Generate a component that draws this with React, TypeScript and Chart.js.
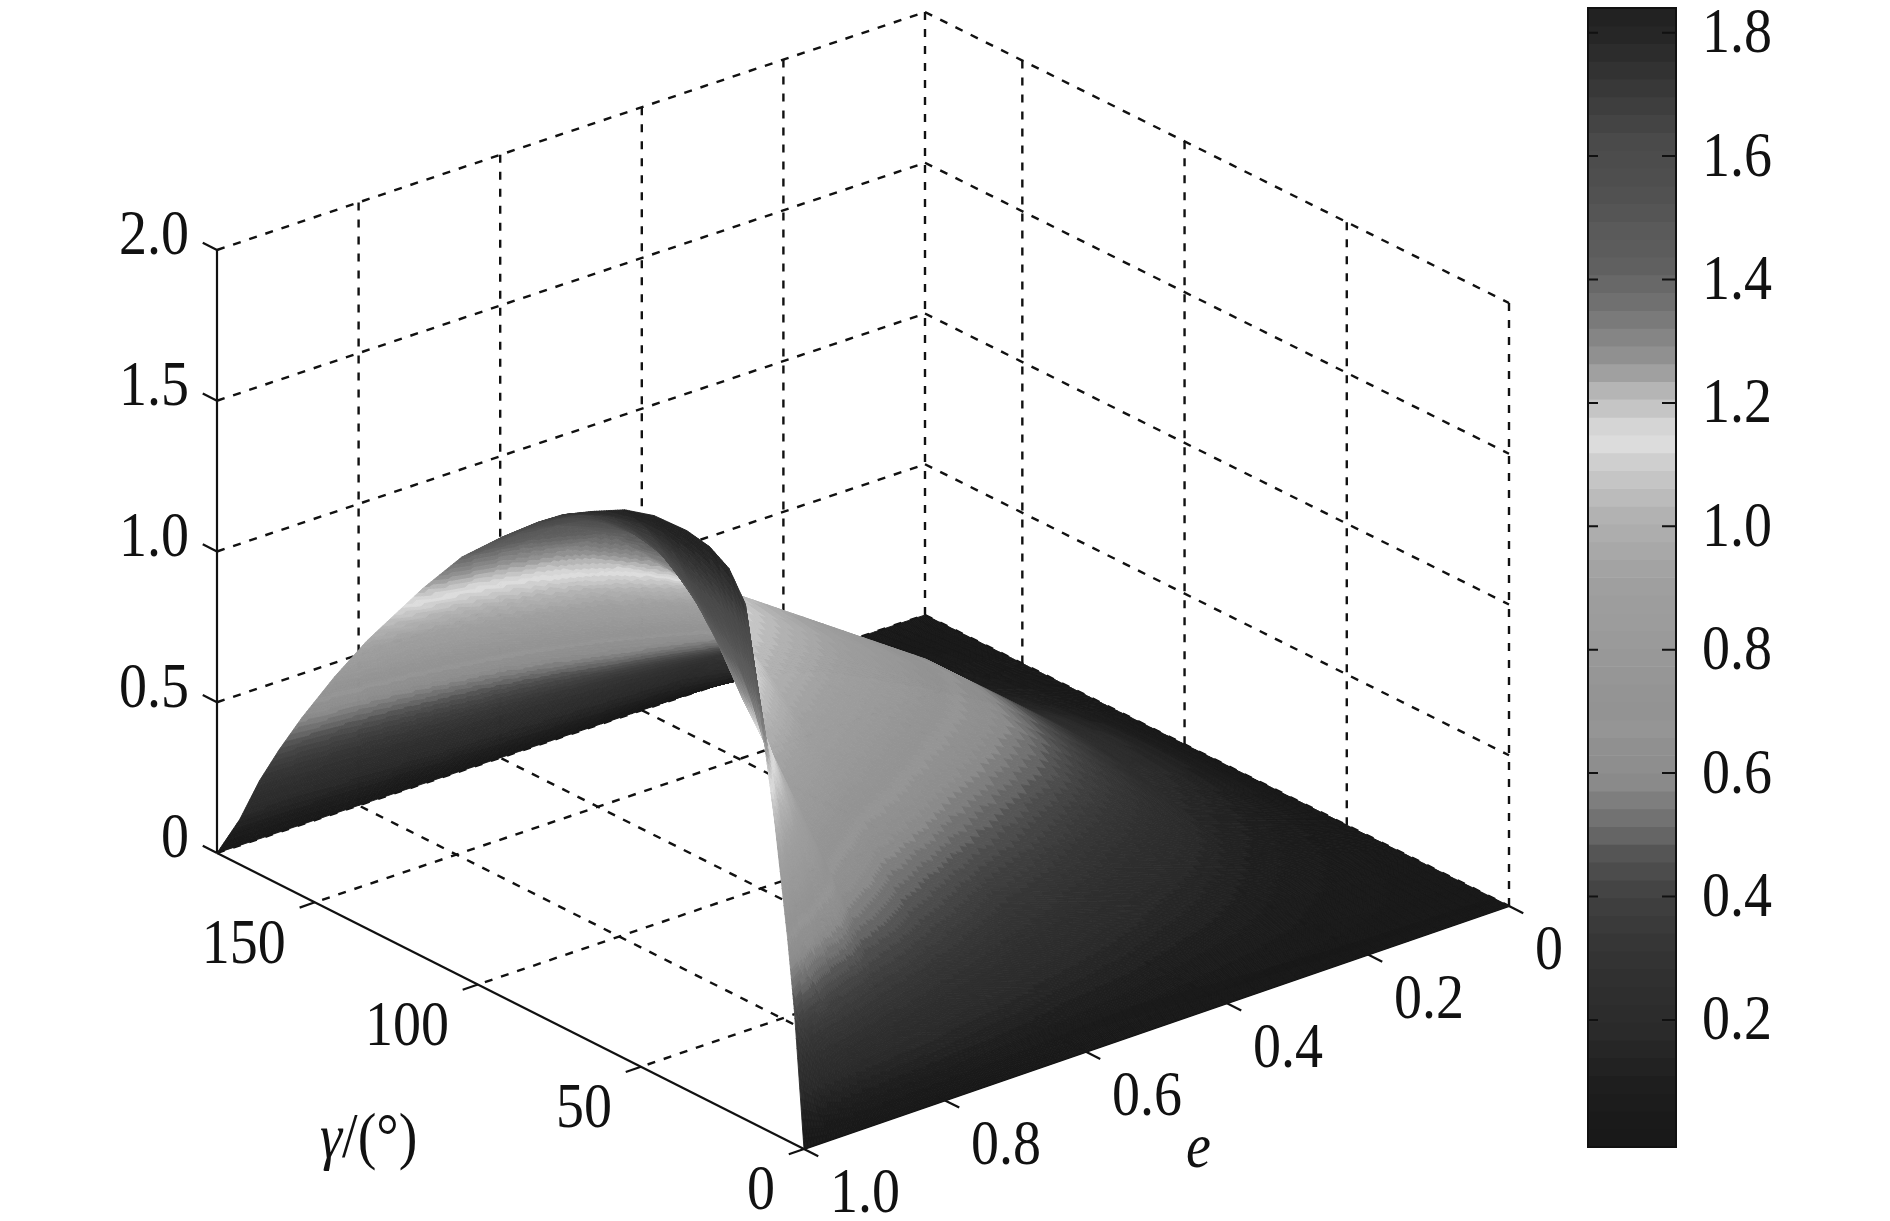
import React, { useEffect, useRef } from "react";
import { Chart, registerables } from "chart.js";

Chart.register(...registerables);

// ---------- data ----------
const E_NODES = [0, 0.2, 0.4, 0.6, 0.75, 0.85, 0.92, 0.97, 1];
const GAMMA_NODES = [0, 3, 5, 9, 13, 18, 23, 29, 36, 46, 55, 65, 74, 82, 93, 105, 117, 134, 144, 154, 161, 167, 173, 180];
const Z_E000 = [0, 0, 0, 0, 0, 0, 0, 0, 0, 0, 0, 0, 0, 0, 0, 0, 0, 0, 0, 0, 0, 0, 0, 0];
const Z_E020 = [0, 0.006, 0.01, 0.025, 0.037, 0.05, 0.063, 0.08, 0.103, 0.137, 0.167, 0.2, 0.228, 0.242, 0.25, 0.24, 0.21, 0.16, 0.125, 0.09, 0.07, 0.045, 0.02, 0];
const Z_E040 = [0, 0.02, 0.035, 0.063, 0.09, 0.125, 0.16, 0.2, 0.27, 0.37, 0.47, 0.56, 0.61, 0.64, 0.64, 0.6, 0.54, 0.48, 0.41, 0.33, 0.26, 0.18, 0.09, 0];
const Z_E060 = [0, 0.04, 0.07, 0.12, 0.17, 0.23, 0.3, 0.37, 0.47, 0.6, 0.71, 0.82, 0.9, 0.94, 0.96, 0.91, 0.82, 0.64, 0.52, 0.41, 0.32, 0.22, 0.11, 0];
const Z_E075 = [0, 0.08, 0.135, 0.22, 0.3, 0.39, 0.47, 0.55, 0.65, 0.8, 0.91, 1.02, 1.1, 1.17, 1.2, 1.14, 1.02, 0.79, 0.64, 0.49, 0.37, 0.26, 0.13, 0];
const Z_E085 = [0, 0.13, 0.21, 0.33, 0.43, 0.55, 0.64, 0.74, 0.85, 1.02, 1.2, 1.38, 1.46, 1.47, 1.42, 1.3, 1.13, 0.87, 0.71, 0.54, 0.41, 0.29, 0.14, 0];
const Z_E092 = [0, 0.19, 0.31, 0.48, 0.65, 0.85, 1.0, 1.13, 1.23, 1.42, 1.54, 1.6, 1.6, 1.58, 1.5, 1.36, 1.18, 0.92, 0.75, 0.57, 0.43, 0.3, 0.15, 0];
const Z_E097 = [0, 0.29, 0.47, 0.72, 0.95, 1.2, 1.36, 1.5, 1.58, 1.7, 1.74, 1.72, 1.68, 1.62, 1.52, 1.38, 1.2, 0.94, 0.77, 0.58, 0.44, 0.31, 0.15, 0];
const Z_E100 = [0, 0.45, 0.67, 1.04, 1.35, 1.71, 1.8, 1.84, 1.855, 1.85, 1.82, 1.76, 1.7, 1.63, 1.52, 1.39, 1.22, 0.955, 0.78, 0.59, 0.445, 0.31, 0.15, 0];
const Z_ROWS = [Z_E000, Z_E020, Z_E040, Z_E060, Z_E075, Z_E085, Z_E092, Z_E097, Z_E100];

// 64 grey levels of the colour bar, top band first
const BAND_GREYS = [
  34, 38, 44, 50, 56, 62, 68, 74, 76, 78, 81, 85, 90, 92, 96, 104,
  112, 122, 133, 144, 160, 181, 197, 213, 220, 207, 197, 187, 178, 173, 168, 163,
  159, 157, 156, 154, 152, 150, 148, 147, 149, 144, 142, 138, 126, 114, 101, 85,
  76, 68, 62, 58, 54, 51, 48, 46, 44, 42, 38, 34, 30, 28, 26, 25,
];
const BAR_MIN = -0.006;
const BAR_MAX = 1.84;

const Z_TICKS = [0, 0.5, 1, 1.5, 2];
const Z_TICK_LABELS = ["0", "0.5", "1.0", "1.5", "2.0"];
const GAMMA_TICKS = [0, 50, 100, 150];
const GAMMA_TICK_LABELS = ["0", "50", "100", "150"];
const E_TICKS = [0, 0.2, 0.4, 0.6, 0.8, 1];
const E_TICK_LABELS = ["0", "0.2", "0.4", "0.6", "0.8", "1.0"];
const BAR_TICKS = [0.2, 0.4, 0.6, 0.8, 1.0, 1.2, 1.4, 1.6, 1.8];

// ---------- view ----------
const GAMMA_MAX = 180;
const Z_MAX = 2;
const CORNER_R = { x: 1509, y: 906 }; // e=0, gamma=0
const CORNER_F = { x: 804, y: 1149 }; // e=1, gamma=0
const CORNER_L = { x: 217, y: 853 }; // e=1, gamma=max
const CORNER_B = { x: 925, y: 615 }; // e=0, gamma=max
const Z_PIXELS = 603;
const FONT = '"Liberation Serif", "Times New Roman", serif';
const FONT_SIZE = 56;
const TEXT_STRETCH = 1.12;
const INK = "#111111";

function project(e: number, gamma: number, z: number) {
  const g = gamma / GAMMA_MAX;
  const a = (1 - e) * (1 - g);
  const b = e * (1 - g);
  const c = e * g;
  const d = (1 - e) * g;
  return {
    x: a * CORNER_R.x + b * CORNER_F.x + c * CORNER_L.x + d * CORNER_B.x,
    y: a * CORNER_R.y + b * CORNER_F.y + c * CORNER_L.y + d * CORNER_B.y - (z / Z_MAX) * Z_PIXELS,
  };
}

function seg(p: { x: number; y: number }, q: { x: number; y: number }, dashed: boolean) {
  return {
    type: "scatter" as const,
    data: [p, q],
    showLine: true,
    pointRadius: 0,
    borderColor: INK,
    borderWidth: dashed ? 2.4 : 2.2,
    borderDash: dashed ? [8, 9] : [],
    fill: false,
  };
}

function buildLines() {
  const out: any[] = [];
  const eAll = [...E_TICKS];
  const gAll = [...GAMMA_TICKS, GAMMA_MAX];
  for (const z of Z_TICKS) {
    out.push(seg(project(1, GAMMA_MAX, z), project(0, GAMMA_MAX, z), true));
    out.push(seg(project(0, GAMMA_MAX, z), project(0, 0, z), true));
  }
  for (const e of eAll) {
    if (e === 1) continue;
    out.push(seg(project(e, GAMMA_MAX, 0), project(e, GAMMA_MAX, Z_MAX), true));
  }
  for (const g of gAll) {
    if (g === GAMMA_MAX) continue;
    out.push(seg(project(0, g, 0), project(0, g, Z_MAX), true));
  }
  for (const e of eAll) {
    if (e === 0 || e === 1) continue;
    out.push(seg(project(e, 0, 0), project(e, GAMMA_MAX, 0), true));
  }
  for (const g of gAll) {
    if (g === GAMMA_MAX || g === 0) continue;
    out.push(seg(project(0, g, 0), project(1, g, 0), true));
  }
  out.push(seg(project(1, GAMMA_MAX, 0), project(1, GAMMA_MAX, Z_MAX), false));
  out.push(seg(project(1, GAMMA_MAX, 0), project(1, 0, 0), false));
  out.push(seg(project(1, 0, 0), project(0, 0, 0), false));
  const T = 16;
  for (const z of Z_TICKS) {
    const p = project(1, GAMMA_MAX, z);
    out.push(seg(p, { x: p.x - T * 0.89, y: p.y - T * 0.45 }, false));
  }
  for (const g of GAMMA_TICKS) {
    const p = project(1, g, 0);
    out.push(seg(p, { x: p.x - T * 0.95, y: p.y + T * 0.33 }, false));
  }
  for (const e of E_TICKS) {
    const p = project(e, 0, 0);
    out.push(seg(p, { x: p.x + T * 0.89, y: p.y + T * 0.45 }, false));
  }
  return out;
}

function greyOf(v: number) {
  const t = (v - BAR_MIN) / (BAR_MAX - BAR_MIN);
  const i = Math.max(0, Math.min(63, Math.floor(t * 64)));
  const g = BAND_GREYS[63 - i];
  return `rgb(${g},${g},${g})`;
}

function stretchedText(ctx: any, text: string, x: number, y: number) {
  ctx.save();
  ctx.translate(x, y);
  ctx.scale(1, TEXT_STRETCH);
  ctx.fillText(text, 0, 0);
  ctx.restore();
}

const SURFACE_LABEL = "surface nodes";
const SUB = 14;

const surfacePlugin = {
  id: "surfacePlugin",
  afterDatasetsDraw(chart: any) {
    const { ctx, scales } = chart;
    const ds = chart.data.datasets.find((d: any) => d.label === SURFACE_LABEL);
    const nE = E_NODES.length;
    const nG = GAMMA_NODES.length;
    const node = (i: number, j: number) => {
      const n = ds.data[i * nG + j];
      return { x: scales.x.getPixelForValue(n.x), y: scales.y.getPixelForValue(n.y), v: n.v };
    };
    ctx.save();
    ctx.lineWidth = 0.9;
    ctx.lineJoin = "round";
    for (let i = 0; i < nE - 1; i++) {
      for (let j = nG - 2; j >= 0; j--) {
        const a = node(i, j);
        const b = node(i, j + 1);
        const c = node(i + 1, j);
        const d = node(i + 1, j + 1);
        const at = (s: number, t: number) => {
          const w00 = (1 - s) * (1 - t);
          const w01 = (1 - s) * t;
          const w10 = s * (1 - t);
          const w11 = s * t;
          return {
            x: w00 * a.x + w01 * b.x + w10 * c.x + w11 * d.x,
            y: w00 * a.y + w01 * b.y + w10 * c.y + w11 * d.y,
            v: w00 * a.v + w01 * b.v + w10 * c.v + w11 * d.v,
          };
        };
        for (let si = 0; si < SUB; si++) {
          for (let ti = SUB - 1; ti >= 0; ti--) {
            const s0 = si / SUB;
            const s1 = (si + 1) / SUB;
            const t0 = ti / SUB;
            const t1 = (ti + 1) / SUB;
            const p0 = at(s0, t0);
            const p1 = at(s0, t1);
            const p2 = at(s1, t1);
            const p3 = at(s1, t0);
            const col = greyOf((p0.v + p1.v + p2.v + p3.v) / 4);
            ctx.fillStyle = col;
            ctx.strokeStyle = col;
            ctx.beginPath();
            ctx.moveTo(p0.x, p0.y);
            ctx.lineTo(p1.x, p1.y);
            ctx.lineTo(p2.x, p2.y);
            ctx.lineTo(p3.x, p3.y);
            ctx.closePath();
            ctx.fill();
            ctx.stroke();
          }
        }
      }
    }
    ctx.restore();
  },
};

const labelPlugin = {
  id: "labelPlugin",
  afterDraw(chart: any) {
    const { ctx, scales } = chart;
    const px = (p: { x: number; y: number }) => ({
      x: scales.x.getPixelForValue(p.x),
      y: scales.y.getPixelForValue(p.y),
    });
    ctx.save();
    ctx.fillStyle = INK;
    ctx.textBaseline = "middle";
    ctx.font = `${FONT_SIZE}px ${FONT}`;
    ctx.textAlign = "right";
    Z_TICKS.forEach((z, i) => {
      const p = px(project(1, GAMMA_MAX, z));
      stretchedText(ctx, Z_TICK_LABELS[i], p.x - 28, p.y - 12);
    });
    GAMMA_TICKS.forEach((g, i) => {
      const p = px(project(1, g, 0));
      stretchedText(ctx, GAMMA_TICK_LABELS[i], p.x - 29, p.y + 44);
    });
    ctx.textAlign = "left";
    E_TICKS.forEach((e, i) => {
      const p = px(project(e, 0, 0));
      stretchedText(ctx, E_TICK_LABELS[i], p.x + 26, p.y + 47);
    });
    const gName = px({ x: 320, y: 1141 });
    ctx.font = `italic ${FONT_SIZE}px ${FONT}`;
    stretchedText(ctx, "γ", gName.x, gName.y);
    const w = ctx.measureText("γ").width;
    ctx.font = `${FONT_SIZE}px ${FONT}`;
    stretchedText(ctx, "/(°)", gName.x + w, gName.y);
    const eName = px({ x: 1186, y: 1151 });
    ctx.font = `italic ${FONT_SIZE}px ${FONT}`;
    stretchedText(ctx, "e", eName.x, eName.y);
    ctx.restore();
  },
};

const barFramePlugin = {
  id: "barFramePlugin",
  afterDatasetsDraw(chart: any) {
    const { ctx, chartArea: a, scales } = chart;
    ctx.save();
    ctx.strokeStyle = "#111111";
    ctx.lineWidth = 2;
    ctx.strokeRect(a.left + 1, a.top, a.right - a.left - 2, a.bottom - a.top);
    ctx.fillStyle = INK;
    ctx.textAlign = "left";
    ctx.textBaseline = "middle";
    ctx.font = `${FONT_SIZE}px ${FONT}`;
    for (const t of BAR_TICKS) {
      const y = scales.y.getPixelForValue(t);
      ctx.beginPath();
      ctx.moveTo(a.left, y);
      ctx.lineTo(a.left + 11, y);
      ctx.moveTo(a.right - 15, y);
      ctx.lineTo(a.right, y);
      ctx.stroke();
      stretchedText(ctx, t.toFixed(1), a.right + 25, y + 3);
    }
    ctx.restore();
  },
};

export default function App() {
  const mainRef = useRef<HTMLCanvasElement | null>(null);
  const barRef = useRef<HTMLCanvasElement | null>(null);

  useEffect(() => {
    const nodes: any[] = [];
    E_NODES.forEach((e, i) => {
      GAMMA_NODES.forEach((g, j) => {
        const v = Z_ROWS[i][j];
        const p = project(e, g, v);
        nodes.push({ x: p.x, y: p.y, v });
      });
    });
    const main = new Chart(mainRef.current as HTMLCanvasElement, {
      type: "scatter",
      data: {
        datasets: [
          ...buildLines(),
          { label: SURFACE_LABEL, data: nodes, pointRadius: 0, showLine: false },
        ],
      },
      options: {
        animation: false,
        responsive: false,
        devicePixelRatio: 1,
        layout: { padding: 0 },
        plugins: { legend: { display: false }, tooltip: { enabled: false } },
        events: [],
        scales: {
          x: { type: "linear", display: false, min: 0, max: 1890 },
          y: { type: "linear", display: false, min: 0, max: 1221, reverse: true },
        },
      },
      plugins: [surfacePlugin, labelPlugin],
    } as any);

    const step = (BAR_MAX - BAR_MIN) / BAND_GREYS.length;
    const bar = new Chart(barRef.current as HTMLCanvasElement, {
      type: "bar",
      data: {
        labels: ["value"],
        datasets: BAND_GREYS.map((g, i) => ({
          data: [[BAR_MAX - (i + 1) * step, BAR_MAX - i * step]],
          backgroundColor: `rgb(${g},${g},${g})`,
          borderWidth: 0,
          grouped: false,
          barPercentage: 1,
          categoryPercentage: 1,
        })),
      },
      options: {
        animation: false,
        responsive: false,
        devicePixelRatio: 1,
        layout: { padding: { top: 8, bottom: 74, left: 0, right: 213 } },
        plugins: { legend: { display: false }, tooltip: { enabled: false } },
        events: [],
        scales: {
          x: { display: false },
          y: { type: "linear", display: false, min: BAR_MIN, max: BAR_MAX },
        },
      },
      plugins: [barFramePlugin],
    } as any);

    return () => {
      main.destroy();
      bar.destroy();
    };
  }, []);

  return (
    <div style={{ position: "absolute", left: 0, top: 0, width: 1890, height: 1221, background: "#fff", overflow: "hidden" }}>
      <canvas ref={mainRef} width={1890} height={1221} style={{ position: "absolute", left: 0, top: 0 }} />
      <canvas ref={barRef} width={303} height={1221} style={{ position: "absolute", left: 1587, top: 0 }} />
    </div>
  );
}
